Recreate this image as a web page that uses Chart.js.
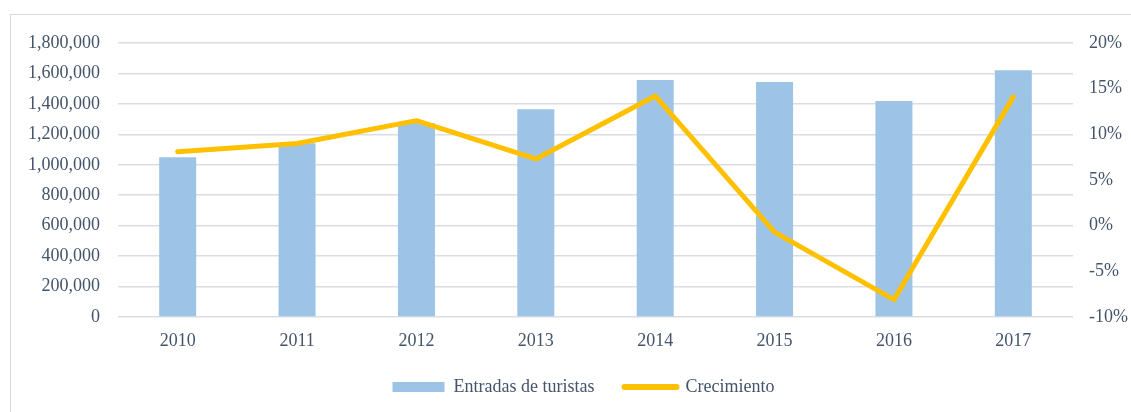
<!DOCTYPE html>
<html>
<head>
<meta charset="utf-8">
<script src="https://cdn.jsdelivr.net/npm/chart.js@4"></script>
<style>
  html, body { margin: 0; padding: 0; background: #ffffff; overflow: hidden; width: 1131px; height: 412px; }
  #frame { position: absolute; left: 10px; top: 14px; width: 1140px; height: 420px;
           border-left: 1px solid #D9D9D9; border-top: 1px solid #D9D9D9; }
  #c { position: absolute; left: 0; top: 0; }
</style>
</head>
<body>
<div id="frame"></div>
<canvas id="c" width="1145" height="412"></canvas>
<script>
const categories = ['2010', '2011', '2012', '2013', '2014', '2015', '2016', '2017'];
const entradas = [1049000, 1141000, 1274000, 1364000, 1557000, 1544000, 1419000, 1621000];
const crecimiento = [8.1, 9.0, 11.5, 7.3, 14.2, -0.7, -8.1, 14.1];
const seriesNames = ['Entradas de turistas', 'Crecimiento'];

const textColor = '#44546A';
const gridColor = '#DADEE4';
const barColor = '#9DC3E6';
const lineColor = '#FFC000';
const font = { family: '"Liberation Serif", "Times New Roman", serif', size: 18 };

new Chart(document.getElementById('c'), {
  data: {
    labels: categories,
    datasets: [
      {
        type: 'bar', label: seriesNames[0], data: entradas, yAxisID: 'y',
        backgroundColor: barColor, borderWidth: 0,
        categoryPercentage: 1.0, barPercentage: 0.31, order: 1
      },
      {
        type: 'line', label: seriesNames[1], data: crecimiento, yAxisID: 'y1',
        borderColor: lineColor, backgroundColor: lineColor, borderWidth: 5,
        pointRadius: 0, tension: 0, borderCapStyle: 'round', borderJoinStyle: 'round',
        order: 0
      }
    ]
  },
  options: {
    responsive: false,
    animation: false,
    layout: { padding: { top: 43, left: 22, right: 0, bottom: 6 } },
    plugins: {
      tooltip: { enabled: false },
      legend: {
        position: 'bottom',
        labels: {
          font: font, color: textColor, padding: 30,
          usePointStyle: true, pointStyleWidth: 52, boxHeight: 10,
          generateLabels: (chart) => chart.data.datasets.map((ds, i) => ({
            text: ds.label,
            fillStyle: ds.type === 'bar' ? barColor : lineColor,
            strokeStyle: lineColor,
            lineWidth: ds.type === 'bar' ? 0 : 6,
            lineCap: 'round',
            pointStyle: ds.type === 'bar' ? 'rect' : 'line',
            fontColor: textColor,
            hidden: false,
            datasetIndex: i
          }))
        }
      }
    },
    scales: {
      x: {
        grid: { display: false, drawTicks: false },
        border: { display: false },
        ticks: { font: font, color: textColor, padding: 13 },
        afterFit: (s) => { s.height = 31; }
      },
      y: {
        position: 'left', min: 0, max: 1800000,
        grid: { color: gridColor, lineWidth: 1.5, drawTicks: false },
        border: { display: false },
        ticks: {
          stepSize: 200000, font: font, color: textColor, padding: 18,
          callback: (v) => Number(v).toLocaleString('en-US')
        },
        afterFit: (s) => { s.width = 96; }
      },
      y1: {
        position: 'right', min: -10, max: 20,
        grid: { drawOnChartArea: false, drawTicks: false },
        border: { display: false },
        ticks: {
          stepSize: 5, font: font, color: textColor, padding: 16,
          callback: (v) => v + '%'
        },
        afterFit: (s) => { s.width = 72; }
      }
    }
  }
});
</script>
</body>
</html>
